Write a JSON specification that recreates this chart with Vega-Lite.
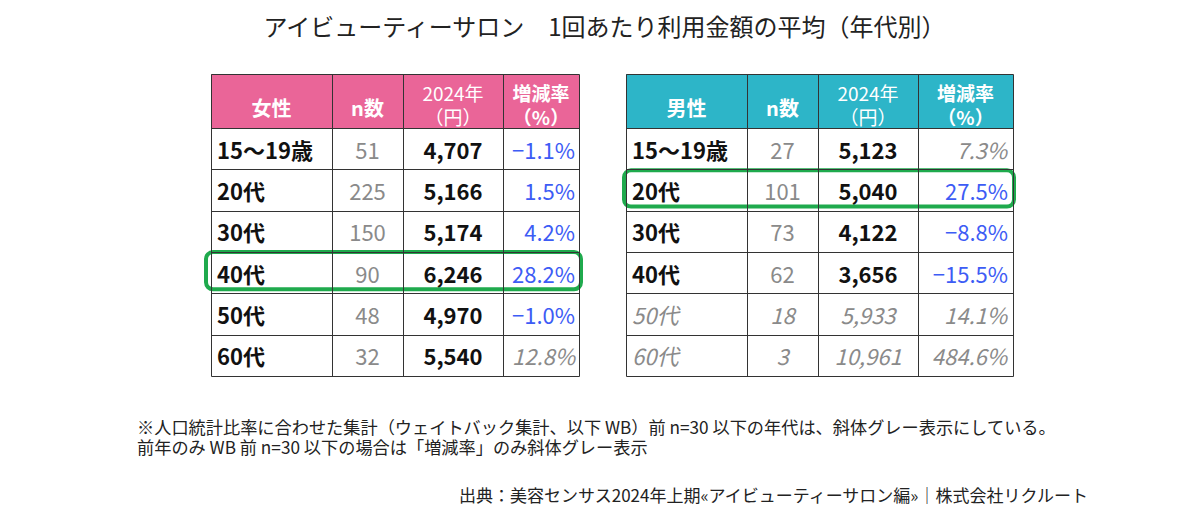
{
  "$schema": "https://vega.github.io/schema/vega-lite/v6.json",
  "background": "white",
  "padding": {"left": 137, "top": 17, "right": 5, "bottom": 5},
  "autosize": {"type": "pad"},
  "title": {
    "text": "アイビューティーサロン　1回あたり利用金額の平均（年代別）",
    "fontSize": 24, "fontWeight": "normal", "color": "#222", "font": "Noto Sans CJK JP",
    "anchor": "middle", "dx": -8, "offset": 33
  },
  "spacing": 30,
  "datasets": {
    "female": [
      {"row": 1, "age": "15〜19歳", "n": 51, "amount": 4707, "pct": -0.011, "rowStyle": "normal", "pctStyle": "normal"},
      {"row": 2, "age": "20代", "n": 225, "amount": 5166, "pct": 0.015, "rowStyle": "normal", "pctStyle": "normal"},
      {"row": 3, "age": "30代", "n": 150, "amount": 5174, "pct": 0.042, "rowStyle": "normal", "pctStyle": "normal"},
      {"row": 4, "age": "40代", "n": 90, "amount": 6246, "pct": 0.282, "rowStyle": "normal", "pctStyle": "normal"},
      {"row": 5, "age": "50代", "n": 48, "amount": 4970, "pct": -0.010, "rowStyle": "normal", "pctStyle": "normal"},
      {"row": 6, "age": "60代", "n": 32, "amount": 5540, "pct": 0.128, "rowStyle": "normal", "pctStyle": "gray"}
    ],
    "male": [
      {"row": 1, "age": "15〜19歳", "n": 27, "amount": 5123, "pct": 0.073, "rowStyle": "normal", "pctStyle": "gray"},
      {"row": 2, "age": "20代", "n": 101, "amount": 5040, "pct": 0.275, "rowStyle": "normal", "pctStyle": "normal"},
      {"row": 3, "age": "30代", "n": 73, "amount": 4122, "pct": -0.088, "rowStyle": "normal", "pctStyle": "normal"},
      {"row": 4, "age": "40代", "n": 62, "amount": 3656, "pct": -0.155, "rowStyle": "normal", "pctStyle": "normal"},
      {"row": 5, "age": "50代", "n": 18, "amount": 5933, "pct": 0.141, "rowStyle": "gray", "pctStyle": "gray"},
      {"row": 6, "age": "60代", "n": 3, "amount": 10961, "pct": 4.846, "rowStyle": "gray", "pctStyle": "gray"}
    ],
    "headF": [
      {"col": 0, "label": "女性"},
      {"col": 1, "label": "n数"},
      {"col": 2, "label": "2024年\n（円）"},
      {"col": 3, "label": "増減率\n（%）"}
    ],
    "headM": [
      {"col": 0, "label": "男性"},
      {"col": 1, "label": "n数"},
      {"col": 2, "label": "2024年\n（円）"},
      {"col": 3, "label": "増減率\n（%）"}
    ]
  },
  "vconcat": [
    {
      "spacing": 47,
      "bounds": "flush",
      "hconcat": [
        {"width": 27, "height": 302, "data": {"values": []}, "mark": "text"},
        {
          "width": 368, "height": 302,
          "data": {"name": "female"},
          "layer": [
            {
              "data": {"name": "headF"},
              "transform": [{"filter": "datum.col == 0"}],
              "mark": {"type": "rect", "color": "#EA6598"},
              "encoding": {
                "x": {"datum": -0.5, "type": "quantitative",
                  "scale": {"domain": [-0.5, 0.5, 1.5, 2.5, 3.5], "range": [0, 121, 192, 292, 368], "zero": false, "nice": false},
                  "axis": {"values": [-0.5, 0.5, 1.5, 2.5, 3.5], "grid": true, "labels": false, "ticks": false, "domain": false, "title": null, "gridColor": "#333", "gridWidth": 1, "gridOpacity": 1, "zindex": 1, "minExtent": 0, "maxExtent": 0, "offset": 0}},
                "x2": {"datum": 3.5},
                "y": {"datum": -0.5, "type": "quantitative",
                  "scale": {"domain": [-0.5, 0.5, 1.5, 2.5, 3.5, 4.5, 5.5, 6.5], "range": [0, 54, 95.3, 136.6, 178, 219.3, 260.6, 302], "zero": false, "nice": false},
                  "axis": {"values": [-0.5, 0.5, 1.5, 2.5, 3.5, 4.5, 5.5, 6.5], "grid": true, "labels": false, "ticks": false, "domain": false, "title": null, "gridColor": "#333", "gridWidth": 1, "gridOpacity": 1, "zindex": 1, "minExtent": 0, "maxExtent": 0, "offset": 0}},
                "y2": {"datum": 0.5}
              }
            },
            {
              "data": {"name": "headF"},
              "transform": [{"filter": "datum.col < 2"}],
              "mark": {"type": "text", "color": "white", "fontSize": 20, "fontWeight": "bold", "baseline": "middle", "dy": 9, "font": "Noto Sans CJK JP"},
              "encoding": {"x": {"field": "col", "type": "quantitative"}, "y": {"datum": 0, "type": "quantitative"}, "text": {"field": "label"}}
            },
            {
              "data": {"name": "headF"},
              "transform": [{"filter": "datum.col == 3"}],
              "mark": {"type": "text", "color": "white", "fontSize": 19, "fontWeight": "bold", "lineBreak": "\n", "lineHeight": 24, "baseline": "middle", "dy": -6, "font": "Noto Sans CJK JP"},
              "encoding": {"x": {"field": "col", "type": "quantitative"}, "y": {"datum": 0, "type": "quantitative"}, "text": {"field": "label"}}
            },
            {
              "data": {"name": "headF"},
              "transform": [{"filter": "datum.col == 2"}],
              "mark": {"type": "text", "color": "white", "fontSize": 19, "fontWeight": "normal", "lineBreak": "\n", "lineHeight": 24, "baseline": "middle", "dy": -6, "font": "Noto Sans CJK JP"},
              "encoding": {"x": {"field": "col", "type": "quantitative"}, "y": {"datum": 0, "type": "quantitative"}, "text": {"field": "label"}}
            },
            {
              "transform": [{"filter": "datum.rowStyle == 'normal'"}],
              "mark": {"type": "text", "align": "left", "dx": 6, "dy": 3, "fontSize": 22, "fontWeight": "bold", "color": "#111", "font": "Noto Sans CJK JP"},
              "encoding": {"x": {"datum": -0.5, "type": "quantitative"}, "y": {"field": "row", "type": "quantitative"}, "text": {"field": "age"}}
            },
            {
              "transform": [{"filter": "datum.rowStyle == 'normal'"}],
              "mark": {"type": "text", "align": "center", "dy": 3, "fontSize": 22, "fontWeight": "normal", "color": "#8a8a8a", "font": "Noto Sans CJK JP"},
              "encoding": {"x": {"datum": 1, "type": "quantitative"}, "y": {"field": "row", "type": "quantitative"}, "text": {"field": "n", "format": "d"}}
            },
            {
              "transform": [{"filter": "datum.rowStyle == 'normal'"}],
              "mark": {"type": "text", "align": "center", "dy": 3, "fontSize": 22, "fontWeight": "bold", "color": "#111", "font": "Noto Sans CJK JP"},
              "encoding": {"x": {"datum": 2, "type": "quantitative"}, "y": {"field": "row", "type": "quantitative"}, "text": {"field": "amount", "format": ",d"}}
            },
            {
              "transform": [{"filter": "datum.pctStyle == 'normal'"}],
              "mark": {"type": "text", "align": "right", "dx": -4, "dy": 3, "fontSize": 22, "fontWeight": "normal", "color": "#3D5CF5", "font": "Noto Sans CJK JP"},
              "encoding": {"x": {"datum": 3.5, "type": "quantitative"}, "y": {"field": "row", "type": "quantitative"}, "text": {"field": "pct", "format": ".1%"}}
            },
            {
              "transform": [{"filter": "datum.pctStyle == 'gray'"}],
              "mark": {"type": "text", "align": "right", "dx": -4, "dy": 3, "fontSize": 22, "fontWeight": "normal", "fontStyle": "italic", "color": "#8a8a8a", "font": "Noto Sans CJK JP"},
              "encoding": {"x": {"datum": 3.5, "type": "quantitative"}, "y": {"field": "row", "type": "quantitative"}, "text": {"field": "pct", "format": ".1%"}}
            },
            {
              "transform": [{"filter": "datum.row == 4"}],
              "mark": {"type": "rect", "fill": "transparent", "fillOpacity": 0, "stroke": "#1FAA4D", "strokeWidth": 4, "cornerRadius": 7, "xOffset": -5, "x2Offset": 2, "yOffset": 0, "y2Offset": -4},
              "encoding": {"x": {"datum": -0.5, "type": "quantitative"}, "x2": {"datum": 3.5}, "y": {"datum": 3.5, "type": "quantitative"}, "y2": {"datum": 4.5}}
            }
          ]
        },
        {
          "width": 387, "height": 302,
          "data": {"name": "male"},
          "layer": [
            {
              "data": {"name": "headM"},
              "transform": [{"filter": "datum.col == 0"}],
              "mark": {"type": "rect", "color": "#2DB5C8"},
              "encoding": {
                "x": {"datum": -0.5, "type": "quantitative",
                  "scale": {"domain": [-0.5, 0.5, 1.5, 2.5, 3.5], "range": [0, 121, 192, 292, 387], "zero": false, "nice": false},
                  "axis": {"values": [-0.5, 0.5, 1.5, 2.5, 3.5], "grid": true, "labels": false, "ticks": false, "domain": false, "title": null, "gridColor": "#333", "gridWidth": 1, "gridOpacity": 1, "zindex": 1, "minExtent": 0, "maxExtent": 0, "offset": 0}},
                "x2": {"datum": 3.5},
                "y": {"datum": -0.5, "type": "quantitative",
                  "scale": {"domain": [-0.5, 0.5, 1.5, 2.5, 3.5, 4.5, 5.5, 6.5], "range": [0, 54, 95.3, 136.6, 178, 219.3, 260.6, 302], "zero": false, "nice": false},
                  "axis": {"values": [-0.5, 0.5, 1.5, 2.5, 3.5, 4.5, 5.5, 6.5], "grid": true, "labels": false, "ticks": false, "domain": false, "title": null, "gridColor": "#333", "gridWidth": 1, "gridOpacity": 1, "zindex": 1, "minExtent": 0, "maxExtent": 0, "offset": 0}},
                "y2": {"datum": 0.5}
              }
            },
            {
              "data": {"name": "headM"},
              "transform": [{"filter": "datum.col < 2"}],
              "mark": {"type": "text", "color": "white", "fontSize": 20, "fontWeight": "bold", "baseline": "middle", "dy": 9, "font": "Noto Sans CJK JP"},
              "encoding": {"x": {"field": "col", "type": "quantitative"}, "y": {"datum": 0, "type": "quantitative"}, "text": {"field": "label"}}
            },
            {
              "data": {"name": "headM"},
              "transform": [{"filter": "datum.col == 3"}],
              "mark": {"type": "text", "color": "white", "fontSize": 19, "fontWeight": "bold", "lineBreak": "\n", "lineHeight": 24, "baseline": "middle", "dy": -6, "font": "Noto Sans CJK JP"},
              "encoding": {"x": {"field": "col", "type": "quantitative"}, "y": {"datum": 0, "type": "quantitative"}, "text": {"field": "label"}}
            },
            {
              "data": {"name": "headM"},
              "transform": [{"filter": "datum.col == 2"}],
              "mark": {"type": "text", "color": "white", "fontSize": 19, "fontWeight": "normal", "lineBreak": "\n", "lineHeight": 24, "baseline": "middle", "dy": -6, "font": "Noto Sans CJK JP"},
              "encoding": {"x": {"field": "col", "type": "quantitative"}, "y": {"datum": 0, "type": "quantitative"}, "text": {"field": "label"}}
            },
            {
              "transform": [{"filter": "datum.rowStyle == 'normal'"}],
              "mark": {"type": "text", "align": "left", "dx": 6, "dy": 3, "fontSize": 22, "fontWeight": "bold", "color": "#111", "font": "Noto Sans CJK JP"},
              "encoding": {"x": {"datum": -0.5, "type": "quantitative"}, "y": {"field": "row", "type": "quantitative"}, "text": {"field": "age"}}
            },
            {
              "transform": [{"filter": "datum.rowStyle == 'gray'"}],
              "mark": {"type": "text", "align": "left", "dx": 6, "dy": 3, "fontSize": 22, "fontWeight": "normal", "fontStyle": "italic", "color": "#8a8a8a", "font": "Noto Sans CJK JP"},
              "encoding": {"x": {"datum": -0.5, "type": "quantitative"}, "y": {"field": "row", "type": "quantitative"}, "text": {"field": "age"}}
            },
            {
              "transform": [{"filter": "datum.rowStyle == 'normal'"}],
              "mark": {"type": "text", "align": "center", "dy": 3, "fontSize": 22, "fontWeight": "normal", "color": "#8a8a8a", "font": "Noto Sans CJK JP"},
              "encoding": {"x": {"datum": 1, "type": "quantitative"}, "y": {"field": "row", "type": "quantitative"}, "text": {"field": "n", "format": "d"}}
            },
            {
              "transform": [{"filter": "datum.rowStyle == 'gray'"}],
              "mark": {"type": "text", "align": "center", "dy": 3, "fontSize": 22, "fontWeight": "normal", "fontStyle": "italic", "color": "#8a8a8a", "font": "Noto Sans CJK JP"},
              "encoding": {"x": {"datum": 1, "type": "quantitative"}, "y": {"field": "row", "type": "quantitative"}, "text": {"field": "n", "format": "d"}}
            },
            {
              "transform": [{"filter": "datum.rowStyle == 'normal'"}],
              "mark": {"type": "text", "align": "center", "dy": 3, "fontSize": 22, "fontWeight": "bold", "color": "#111", "font": "Noto Sans CJK JP"},
              "encoding": {"x": {"datum": 2, "type": "quantitative"}, "y": {"field": "row", "type": "quantitative"}, "text": {"field": "amount", "format": ",d"}}
            },
            {
              "transform": [{"filter": "datum.rowStyle == 'gray'"}],
              "mark": {"type": "text", "align": "center", "dy": 3, "fontSize": 22, "fontWeight": "normal", "fontStyle": "italic", "color": "#8a8a8a", "font": "Noto Sans CJK JP"},
              "encoding": {"x": {"datum": 2, "type": "quantitative"}, "y": {"field": "row", "type": "quantitative"}, "text": {"field": "amount", "format": ",d"}}
            },
            {
              "transform": [{"filter": "datum.pctStyle == 'normal'"}],
              "mark": {"type": "text", "align": "right", "dx": -5, "dy": 3, "fontSize": 22, "fontWeight": "normal", "color": "#3D5CF5", "font": "Noto Sans CJK JP"},
              "encoding": {"x": {"datum": 3.5, "type": "quantitative"}, "y": {"field": "row", "type": "quantitative"}, "text": {"field": "pct", "format": ".1%"}}
            },
            {
              "transform": [{"filter": "datum.pctStyle == 'gray'"}],
              "mark": {"type": "text", "align": "right", "dx": -6, "dy": 3, "fontSize": 22, "fontWeight": "normal", "fontStyle": "italic", "color": "#8a8a8a", "font": "Noto Sans CJK JP"},
              "encoding": {"x": {"datum": 3.5, "type": "quantitative"}, "y": {"field": "row", "type": "quantitative"}, "text": {"field": "pct", "format": ".1%"}}
            },
            {
              "transform": [{"filter": "datum.row == 2"}],
              "mark": {"type": "rect", "fill": "transparent", "fillOpacity": 0, "stroke": "#1FAA4D", "strokeWidth": 4, "cornerRadius": 7, "xOffset": -2, "x2Offset": 1, "yOffset": 1, "y2Offset": -4},
              "encoding": {"x": {"datum": -0.5, "type": "quantitative"}, "x2": {"datum": 3.5}, "y": {"datum": 1.5, "type": "quantitative"}, "y2": {"datum": 2.5}}
            }
          ]
        }
      ]
    },
    {
      "width": 951, "height": 1,
      "data": {"values": []},
      "mark": "text",
      "title": {
        "text": ["※人口統計比率に合わせた集計（ウェイトバック集計、以下 WB）前 n=30 以下の年代は、斜体グレー表示にしている。", "前年のみ WB 前 n=30 以下の場合は「増減率」のみ斜体グレー表示"],
        "orient": "bottom", "anchor": "start", "fontSize": 17.2, "fontWeight": "normal", "lineHeight": 20, "offset": 13, "color": "#222", "font": "Noto Sans CJK JP"
      }
    },
    {
      "width": 951, "height": 1,
      "data": {"values": []},
      "mark": "text",
      "title": {
        "text": "出典：美容センサス2024年上期«アイビューティーサロン編»｜株式会社リクルート",
        "orient": "top", "anchor": "end", "fontSize": 17, "fontWeight": "normal", "offset": 1, "color": "#222", "font": "Noto Sans CJK JP"
      }
    }
  ],
  "config": {
    "view": {"stroke": null},
    "font": "Noto Sans CJK JP",
    "text": {"font": "Noto Sans CJK JP"}
  }
}
